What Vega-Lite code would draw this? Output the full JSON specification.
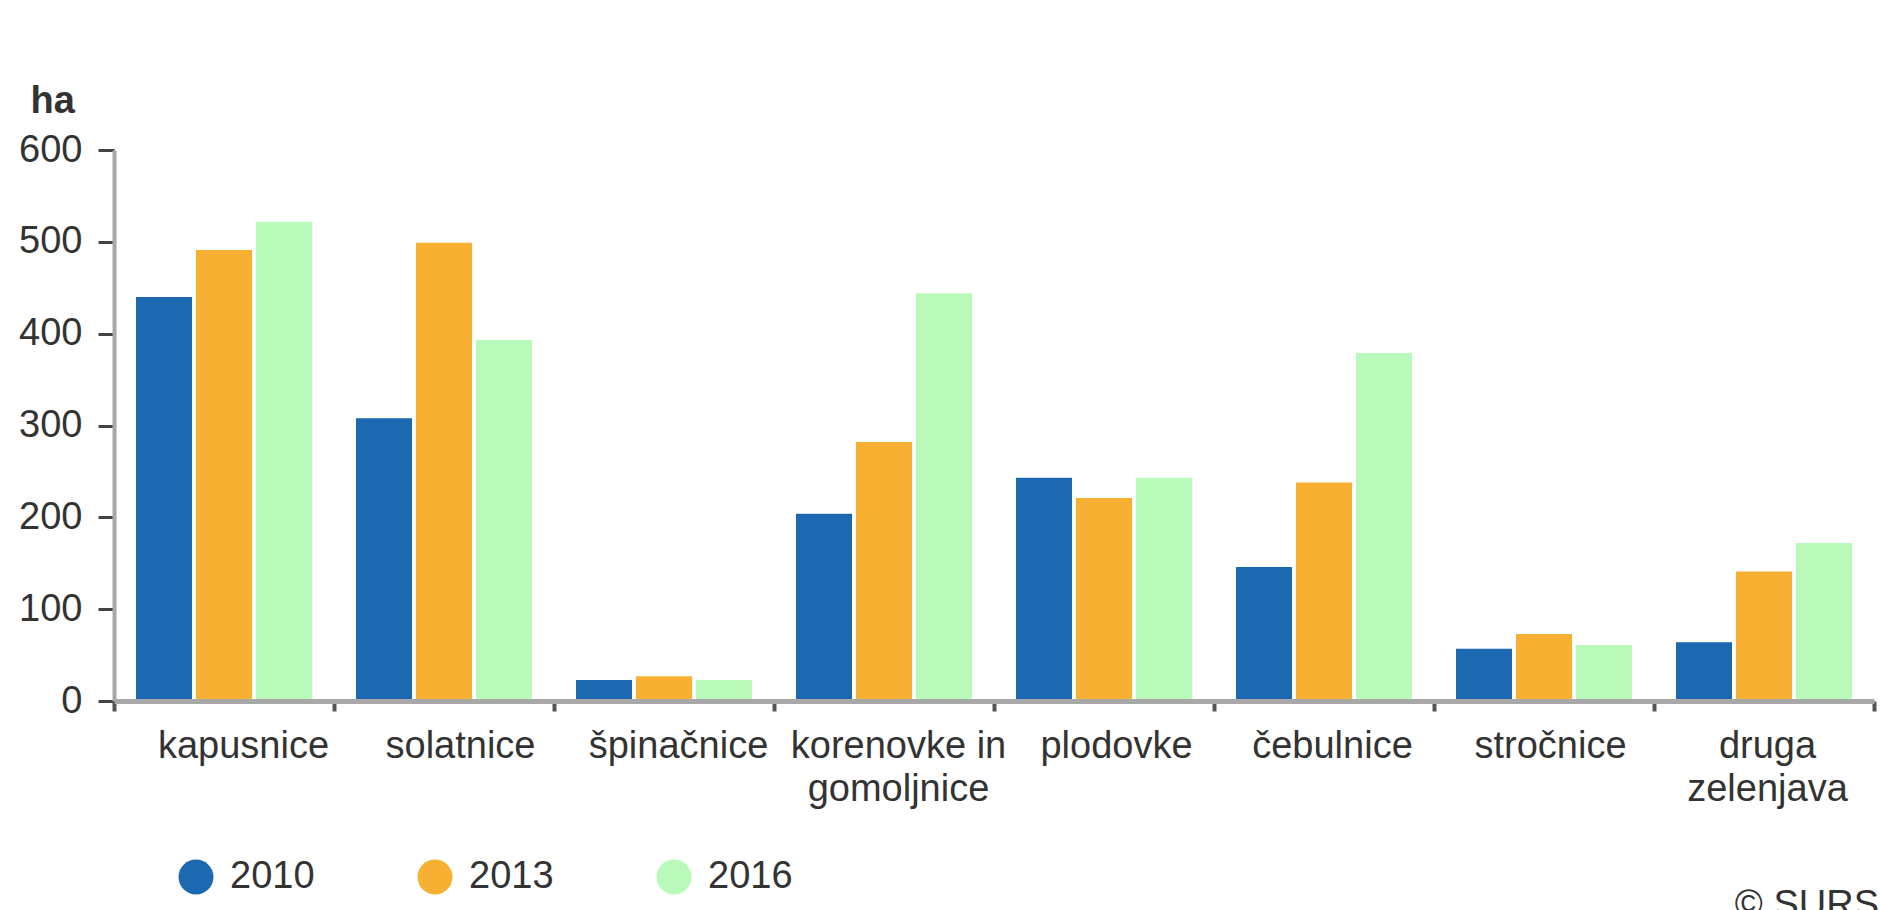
{
  "$schema": "https://vega.github.io/schema/vega-lite/v6.json",
  "width": 1760,
  "height": 551,
  "autosize": {"type": "none"},
  "padding": {"left": 114, "top": 150, "right": 6, "bottom": 209},
  "background": "white",
  "title": {"text": "© SURS", "orient": "bottom", "anchor": "end", "frame": "group", "fontSize": 38, "fontWeight": "normal", "color": "#333333", "font": "Liberation Sans", "dx": 5, "offset": -9},
  "data": {
    "values": [
      {"skupina": "kapusnice", "leto": "2010", "ha": 440},
      {"skupina": "kapusnice", "leto": "2013", "ha": 491},
      {"skupina": "kapusnice", "leto": "2016", "ha": 522},
      {"skupina": "solatnice", "leto": "2010", "ha": 308},
      {"skupina": "solatnice", "leto": "2013", "ha": 499},
      {"skupina": "solatnice", "leto": "2016", "ha": 393},
      {"skupina": "špinačnice", "leto": "2010", "ha": 23},
      {"skupina": "špinačnice", "leto": "2013", "ha": 27},
      {"skupina": "špinačnice", "leto": "2016", "ha": 23},
      {"skupina": "korenovke in gomoljnice", "leto": "2010", "ha": 204},
      {"skupina": "korenovke in gomoljnice", "leto": "2013", "ha": 282},
      {"skupina": "korenovke in gomoljnice", "leto": "2016", "ha": 444},
      {"skupina": "plodovke", "leto": "2010", "ha": 243},
      {"skupina": "plodovke", "leto": "2013", "ha": 221},
      {"skupina": "plodovke", "leto": "2016", "ha": 243},
      {"skupina": "čebulnice", "leto": "2010", "ha": 146},
      {"skupina": "čebulnice", "leto": "2013", "ha": 238},
      {"skupina": "čebulnice", "leto": "2016", "ha": 379},
      {"skupina": "stročnice", "leto": "2010", "ha": 57},
      {"skupina": "stročnice", "leto": "2013", "ha": 73},
      {"skupina": "stročnice", "leto": "2016", "ha": 61},
      {"skupina": "druga zelenjava", "leto": "2010", "ha": 64},
      {"skupina": "druga zelenjava", "leto": "2013", "ha": 141},
      {"skupina": "druga zelenjava", "leto": "2016", "ha": 172}
    ]
  },
  "mark": {"type": "bar"},
  "encoding": {
    "x": {
      "field": "skupina",
      "type": "nominal",
      "sort": null,
      "scale": {"paddingInner": 0, "paddingOuter": 0},
      "axis": {
        "title": null,
        "labelAngle": 0,
        "labelFont": "Liberation Sans",
        "labelFontSize": 38,
        "labelColor": "#333333",
        "labelPadding": 16,
        "labelLineHeight": 43,
        "labelLimit": 0,
        "labelExpr": "datum.label == 'korenovke in gomoljnice' ? ['korenovke in', 'gomoljnice'] : datum.label == 'druga zelenjava' ? ['druga', 'zelenjava'] : datum.label",
        "labelOffset": {
          "condition": [
            {"test": "datum.value == 'kapusnice'", "value": 19},
            {"test": "datum.value == 'solatnice'", "value": 16},
            {"test": "datum.value == 'špinačnice'", "value": 14},
            {"test": "datum.value == 'korenovke in gomoljnice'", "value": 14},
            {"test": "datum.value == 'plodovke'", "value": 12},
            {"test": "datum.value == 'čebulnice'", "value": 8},
            {"test": "datum.value == 'stročnice'", "value": 6}
          ],
          "value": 3
        },
        "tickBand": "extent",
        "tickSize": 10,
        "tickWidth": 4,
        "tickColor": "#555555",
        "domainColor": "#a8a8a8",
        "domainWidth": 5,
        "zindex": 1
      }
    },
    "xOffset": {"field": "leto", "type": "nominal", "scale": {"paddingInner": 0.067, "paddingOuter": 0.367}},
    "y": {
      "field": "ha",
      "type": "quantitative",
      "scale": {"domain": [0, 600], "nice": false},
      "axis": {
        "values": [0, 100, 200, 300, 400, 500, 600],
        "grid": false,
        "labelFont": "Liberation Sans",
        "labelFontSize": 38,
        "labelColor": "#333333",
        "labelPadding": 16,
        "tickSize": 16,
        "tickWidth": 3,
        "tickColor": "#444444",
        "domainColor": "#a8a8a8",
        "domainWidth": 4,
        "title": "ha",
        "titleFont": "Liberation Sans",
        "titleFontSize": 38,
        "titleFontWeight": "bold",
        "titleColor": "#333333",
        "titleAngle": 0,
        "titleAlign": "left",
        "titleBaseline": "alphabetic",
        "titleX": -84,
        "titleY": -38,
        "zindex": 1
      }
    },
    "color": {
      "field": "leto",
      "type": "nominal",
      "scale": {"domain": ["2010", "2013", "2016"], "range": ["#1d69b1", "#f7b032", "#b9f9b9"]},
      "legend": {
        "orient": "none",
        "legendX": 63,
        "legendY": 708,
        "direction": "horizontal",
        "title": null,
        "symbolType": "circle",
        "symbolSize": 1225,
        "symbolStrokeWidth": 0,
        "symbolOpacity": 1,
        "labelFont": "Liberation Sans",
        "labelFontSize": 38,
        "labelColor": "#333333",
        "labelOffset": 15,
        "columnPadding": 101
      }
    }
  },
  "config": {
    "view": {"stroke": null},
    "font": "Liberation Sans"
  }
}
